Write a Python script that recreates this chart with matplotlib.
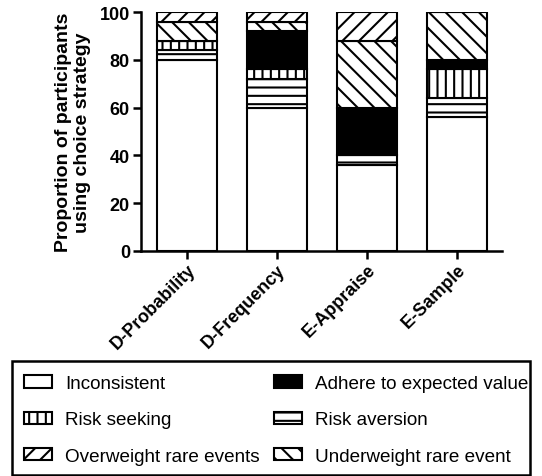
import matplotlib
matplotlib.use("Agg")
import matplotlib.pyplot as plt
from matplotlib.patches import Rectangle
import numpy as np

categories = ["D-Probability", "D-Frequency", "E-Appraise", "E-Sample"]
inconsistent = [80, 60, 36, 56]
risk_aversion = [4, 12, 4, 8]
risk_seeking = [4, 4, 0, 12]
adhere_ev = [0, 16, 20, 4]
underweight = [8, 4, 28, 20]
overweight = [4, 4, 12, 0]
yticks = [0, 20, 40, 60, 80, 100]

plt.rcParams['font.family'] = ['Liberation Sans', 'DejaVu Sans']
plt.rcParams['hatch.linewidth'] = 1.5
plt.rcParams['hatch.color'] = 'black'

W, H = 542, 477
fig = plt.figure(figsize=(W/100, H/100), dpi=100)
ax = fig.add_axes([141/W, 1 - 252/H, (502 - 141)/W, (252 - 13)/H])

x = np.arange(len(categories))
w = 0.667
series = [
    ("Inconsistent", inconsistent, "white", ""),
    ("Risk aversion", risk_aversion, "white", "--"),
    ("Risk seeking", risk_seeking, "white", "||"),
    ("Adhere to expected value", adhere_ev, "black", ""),
    ("Underweight rare event", underweight, "white", "\\\\"),
    ("Overweight rare events", overweight, "white", "//"),
]
bottom = np.zeros(len(categories))
handles = {}
for name, vals, fc, hatch in series:
    vals = np.array(vals, dtype=float)
    b = ax.bar(x, vals, w, bottom=bottom, facecolor=fc, edgecolor='black',
               linewidth=1.5, hatch=hatch, label=name)
    handles[name] = b
    bottom += vals

ax.set_xlim(-0.51, 3.5)
ax.set_ylim(0, 100)
ax.set_yticks(yticks)
ax.set_yticklabels([str(v) for v in yticks], fontsize=13, fontweight='bold')
ax.set_xticks(x)
ax.set_xticklabels(categories, rotation=45, ha='right', rotation_mode='anchor',
                   fontsize=13, fontweight='bold')
for s in ['top', 'right']:
    ax.spines[s].set_visible(False)
for s in ['left', 'bottom']:
    ax.spines[s].set_linewidth(1.8)
ax.tick_params(axis='both', width=1.8, length=6, pad=2)
ax.tick_params(axis='x', pad=1)
ax.set_ylabel("Proportion of participants\nusing choice strategy", fontsize=14,
              fontweight='bold', labelpad=6, linespacing=1.15)

col1 = ["Inconsistent", "Risk seeking", "Overweight rare events"]
col2 = ["Adhere to expected value", "Risk aversion", "Underweight rare event"]
for names, x0 in [(col1, 24), (col2, 274)]:
    fig.legend([handles[n] for n in names], names, loc='center left',
               bbox_to_anchor=(x0/W, 1 - 421/H), frameon=False,
               fontsize=13.6, borderaxespad=0, borderpad=0,
               handlelength=1.48, handleheight=0.65, handletextpad=0.69,
               labelspacing=1.02)
box = Rectangle((12/W, 1/H), (530 - 12)/W, (476 - 362)/H, transform=fig.transFigure,
                fill=False, edgecolor='black', linewidth=1.8)
fig.add_artist(box)

fig.savefig("out.png", dpi=100)
